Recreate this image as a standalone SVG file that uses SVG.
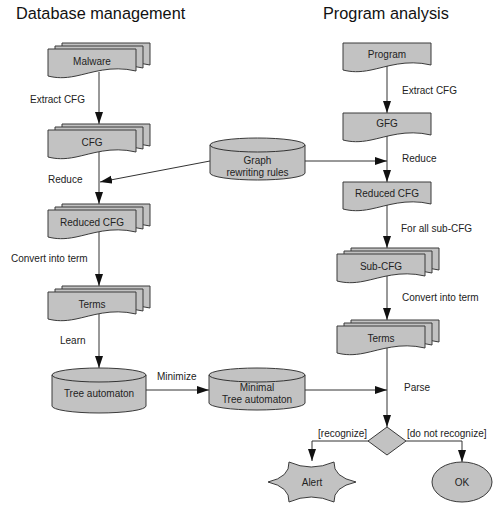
<svg xmlns="http://www.w3.org/2000/svg" xmlns:xlink="http://www.w3.org/1999/xlink" width="497" height="505" viewBox="0 0 497 505">
<style>
.shape{fill:#c2c2c2;stroke:#3a3a3a;stroke-width:1}
.conn{fill:none;stroke:#333;stroke-width:1}
text{font-family:"Liberation Sans",Arial,sans-serif;fill:#222}
.lbl{font-size:10px}
.nt{font-size:10px;text-anchor:middle}
.title{font-size:16.3px;fill:#111}
</style>
<defs>
<path id="doc" d="M0,0 H88 V22 C63,16 43,24 28,27 C16,29.5 8,29 0,27 Z"/>
<marker id="arr" markerUnits="userSpaceOnUse" markerWidth="13" markerHeight="9" refX="12" refY="4" orient="auto">
<path d="M0,0 L12,4 L0,8 Z" fill="#111"/>
</marker>
</defs>
<rect width="497" height="505" fill="#fff"/>
<text class="title" x="16" y="19">Database management</text>
<text class="title" x="323" y="19">Program analysis</text>

<g id="connectors">
<line class="conn" x1="99" y1="72" x2="99" y2="124" marker-end="url(#arr)"/>
<line class="conn" x1="99" y1="152" x2="99" y2="204" marker-end="url(#arr)"/>
<line class="conn" x1="210" y1="161" x2="100" y2="182" marker-end="url(#arr)"/>
<line class="conn" x1="99" y1="232" x2="99" y2="286" marker-end="url(#arr)"/>
<line class="conn" x1="99" y1="314" x2="99" y2="368" marker-end="url(#arr)"/>
<line class="conn" x1="146" y1="390" x2="209" y2="390" marker-end="url(#arr)"/>
<line class="conn" x1="387" y1="66" x2="387" y2="113" marker-end="url(#arr)"/>
<line class="conn" x1="387" y1="136" x2="387" y2="182" marker-end="url(#arr)"/>
<line class="conn" x1="305" y1="161" x2="387" y2="161" marker-end="url(#arr)"/>
<line class="conn" x1="387" y1="205" x2="387" y2="248" marker-end="url(#arr)"/>
<line class="conn" x1="387" y1="276" x2="387" y2="320" marker-end="url(#arr)"/>
<line class="conn" x1="387" y1="348" x2="387" y2="427" marker-end="url(#arr)"/>
<line class="conn" x1="305" y1="390" x2="387" y2="390" marker-end="url(#arr)"/>
<polyline class="conn" points="369,441 312,441 312,461" marker-end="url(#arr)"/>
<polyline class="conn" points="406,441 462,441 462,462" marker-end="url(#arr)"/>
<text class="lbl" x="30" y="103">Extract CFG</text>
<text class="lbl" x="48" y="183">Reduce</text>
<text class="lbl" x="11" y="262">Convert into term</text>
<text class="lbl" x="60" y="344">Learn</text>
<text class="lbl" x="157" y="380">Minimize</text>
<text class="lbl" x="402" y="94">Extract CFG</text>
<text class="lbl" x="402" y="162">Reduce</text>
<text class="lbl" x="401" y="232">For all sub-CFG</text>
<text class="lbl" x="402" y="301">Convert into term</text>
<text class="lbl" x="404" y="391">Parse</text>
<text class="lbl" x="367" y="437" text-anchor="end">[recognize]</text>
<text class="lbl" x="407" y="437">[do not recognize]</text>
</g>

<g id="malware">
<use href="#doc" class="shape" x="62" y="43"/>
<use href="#doc" class="shape" x="55" y="46"/>
<use href="#doc" class="shape" x="48" y="49"/>
<text class="nt" x="92" y="65">Malware</text>
</g>
<g id="cfg">
<use href="#doc" class="shape" x="62" y="124"/>
<use href="#doc" class="shape" x="55" y="127"/>
<use href="#doc" class="shape" x="48" y="130"/>
<text class="nt" x="92" y="146">CFG</text>
</g>
<g id="reduced-cfg-left">
<use href="#doc" class="shape" x="62" y="204"/>
<use href="#doc" class="shape" x="55" y="207"/>
<use href="#doc" class="shape" x="48" y="210"/>
<text class="nt" x="92" y="226">Reduced CFG</text>
</g>
<g id="terms-left">
<use href="#doc" class="shape" x="62" y="286"/>
<use href="#doc" class="shape" x="55" y="289"/>
<use href="#doc" class="shape" x="48" y="292"/>
<text class="nt" x="92" y="308">Terms</text>
</g>
<g id="tree-automaton">
<path class="shape" d="M52,375 A47,7 0 0 1 146,375 V406 A47,7 0 0 1 52,406 Z"/>
<path class="conn" d="M52,375 A47,7 0 0 0 146,375"/>
<text class="nt" x="99" y="397">Tree automaton</text>
</g>
<g id="graph-rules">
<path class="shape" d="M210,145 A47.5,7 0 0 1 305,145 V173 A47.5,7 0 0 1 210,173 Z"/>
<path class="conn" d="M210,145 A47.5,7 0 0 0 305,145"/>
<text class="nt" x="257.5" y="164">Graph</text>
<text class="nt" x="257.5" y="176">rewriting rules</text>
</g>
<g id="minimal-tree-automaton">
<path class="shape" d="M209,375 A48,7 0 0 1 305,375 V403 A48,7 0 0 1 209,403 Z"/>
<path class="conn" d="M209,375 A48,7 0 0 0 305,375"/>
<text class="nt" x="257" y="391">Minimal</text>
<text class="nt" x="257" y="403">Tree automaton</text>
</g>
<g id="program">
<use href="#doc" class="shape" x="343" y="43"/>
<text class="nt" x="387" y="58">Program</text>
</g>
<g id="gfg">
<use href="#doc" class="shape" x="343" y="113"/>
<text class="nt" x="387" y="127">GFG</text>
</g>
<g id="reduced-cfg-right">
<use href="#doc" class="shape" x="343" y="182"/>
<text class="nt" x="387" y="197">Reduced CFG</text>
</g>
<g id="sub-cfg">
<use href="#doc" class="shape" x="351" y="248"/>
<use href="#doc" class="shape" x="344" y="251"/>
<use href="#doc" class="shape" x="337" y="254"/>
<text class="nt" x="381" y="270">Sub-CFG</text>
</g>
<g id="terms-right">
<use href="#doc" class="shape" x="351" y="320"/>
<use href="#doc" class="shape" x="344" y="323"/>
<use href="#doc" class="shape" x="337" y="326"/>
<text class="nt" x="381" y="342">Terms</text>
</g>
<g id="decision">
<polygon class="shape" points="387,427 406,441 387,455 368,441"/>
</g>
<g id="alert">
<path class="shape" d="M289,462 Q311,472 334,462 Q333,477 356,482 Q333,487 334,502 Q311,492 289,502 Q290,487 268,482 Q290,477 289,462 Z"/>
<text class="nt" x="312" y="486">Alert</text>
</g>
<g id="ok">
<ellipse class="shape" cx="462" cy="482" rx="30" ry="20"/>
<text class="nt" x="462" y="486">OK</text>
</g>
</svg>
